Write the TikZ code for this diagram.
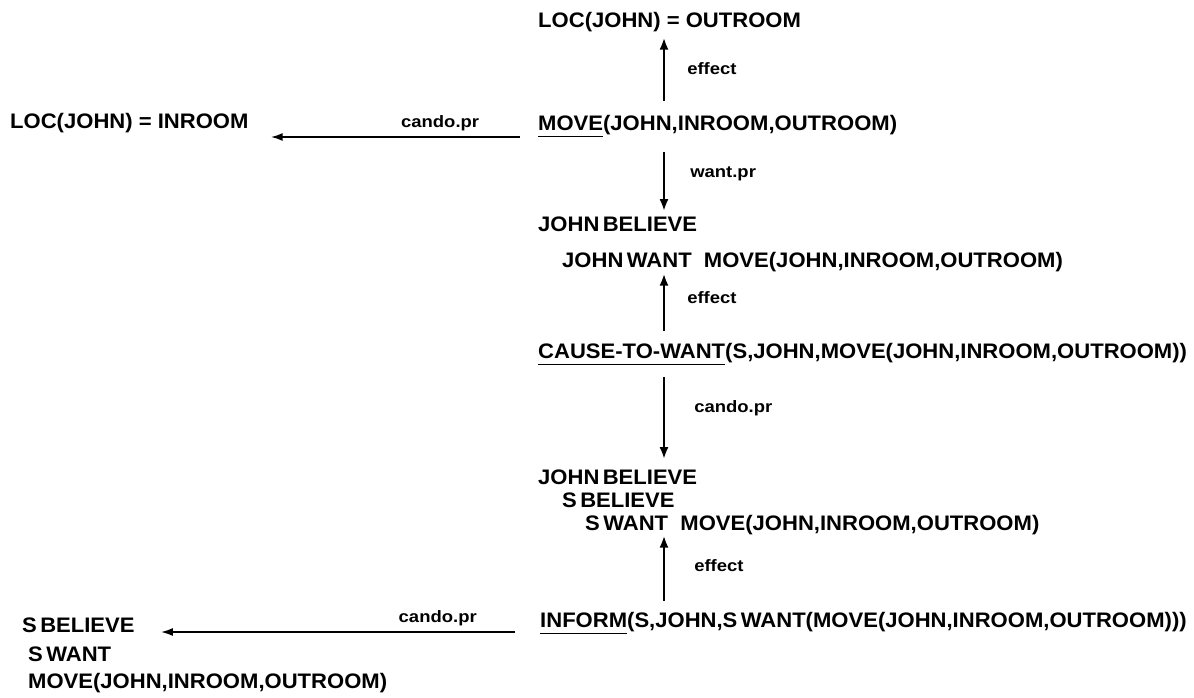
\documentclass[tikz,border=0pt]{standalone}
\usepackage{fontspec}
\setmainfont[FakeStretch=1.05]{Liberation Sans}
\newfontfamily\lblfont[FakeStretch=1.12]{Liberation Sans}
\usetikzlibrary{arrows.meta}
\newcommand\ulword[1]{\setbox0\hbox{#1}\rlap{\rule[-7pt]{\wd0}{1.5pt}}\box0}
\newcommand\tsp{\hspace{0.16em}}
\begin{document}
\begin{tikzpicture}[x=1pt,y=-1pt,
  txt/.style={anchor=base west, inner sep=0pt, font=\fontsize{21}{25}\selectfont\bfseries},
  lab/.style={inner sep=0pt, font=\lblfont\fontsize{16.5}{20}\selectfont\bfseries},
  arr/.style={-{Latex[length=12pt,width=9pt]}, line width=2.5pt},
  harr/.style={-{Latex[length=12pt,width=8pt]}, line width=2pt}]
\useasboundingbox (0,0) rectangle (1194,697);
\fill[white] (0,0) rectangle (1194,697);
\coordinate (vx) at (664,0);

\node[txt] (locout) at (538,27) {LOC(JOHN) = OUTROOM};
\node[txt] (move) at (538,130) {\ulword{MOVE}(JOHN,INROOM,OUTROOM)};
\node[txt] (locin) at (10,128) {LOC(JOHN) = INROOM};
\node[txt] (jb1) at (538,231) {JOHN\tsp BELIEVE};
\node[txt] (jw) at (562,267) {JOHN\tsp WANT\ \ MOVE(JOHN,INROOM,OUTROOM)};
\node[txt] (cause) at (538,358) {\ulword{CAUSE-TO-WANT}(S,JOHN,MOVE(JOHN,INROOM,OUTROOM))};
\node[txt] (jb2) at (538,484) {JOHN\tsp BELIEVE};
\node[txt] (sb) at (562,507) {S\tsp BELIEVE};
\node[txt] (sw) at (585,530) {S\tsp WANT\ \ MOVE(JOHN,INROOM,OUTROOM)};
\node[txt] (inform) at (540,627) {\ulword{INFORM}(S,JOHN,S\tsp WANT(MOVE(JOHN,INROOM,OUTROOM)))};
\node[txt] (sb2) at (22,632) {S\tsp BELIEVE};
\node[txt] (sw2) at (28,661) {S\tsp WANT};
\node[txt] (mv2) at (28,688) {MOVE(JOHN,INROOM,OUTROOM)};

% vertical connectors
\draw[arr, shorten <=14pt, shorten >=6pt] (move.north -| vx) --
  node[lab, anchor=west, pos=0.55, xshift=22pt] {effect} (locout.south -| vx);
\draw[arr, shorten <=15pt, shorten >=5pt] (move.south -| vx) --
  node[lab, anchor=west, pos=0.46, xshift=25pt] {want.pr} (jb1.north -| vx);
\draw[arr, shorten <=12pt, shorten >=2pt] (cause.north -| vx) --
  node[lab, anchor=west, pos=0.64, xshift=22pt] {effect} (jw.south -| vx);
\draw[arr, shorten <=12pt, shorten >=10pt] (cause.south -| vx) --
  node[lab, anchor=west, pos=0.41, xshift=29pt] {cando.pr} (jb2.north -| vx);
\draw[arr, shorten <=11pt, shorten >=1pt] (inform.north -| vx) --
  node[lab, anchor=west, pos=0.6, xshift=29pt] {effect} (sw.south -| vx);

% horizontal connectors
\coordinate (h1) at ([shift={(-18pt,-7pt)}]move.base west);
\draw[harr, shorten >=22pt] (h1) --
  node[lab, anchor=base east, pos=0.147, yshift=10pt] {cando.pr} (h1 -| locin.east);
\coordinate (h2) at ([shift={(-25pt,-5pt)}]inform.base west);
\draw[harr, shorten >=26pt] (h2) --
  node[lab, anchor=base east, pos=0.098, yshift=10pt] {cando.pr} (h2 -| sb2.east);
\end{tikzpicture}
\end{document}
